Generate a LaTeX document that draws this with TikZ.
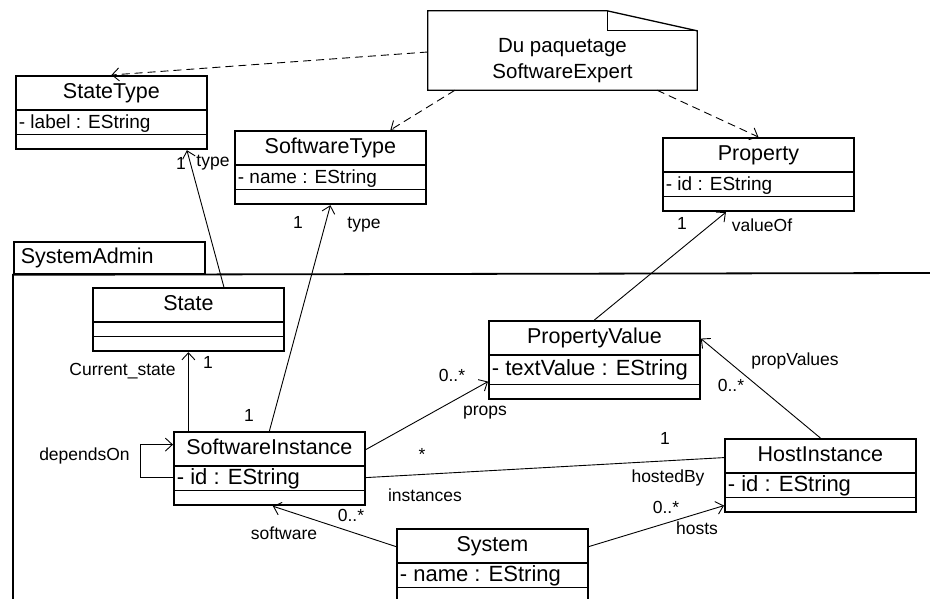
\documentclass[tikz,border=0pt]{standalone}
\usepackage{fontspec}
\setmainfont{Liberation Sans}
\usepackage{tikz}
\usetikzlibrary{shapes.multipart, arrows.meta, calc}

% class compartments
\newcommand{\clsname}[2][187pt]{\fontsize{21.5}{24}\selectfont\rule[-10pt]{0pt}{32pt}\makebox[#1][c]{#2}}
\newcommand{\clsattr}[2][19]{\fontsize{#1}{#1}\selectfont\rule[-5pt]{0pt}{23pt}#2}
\newcommand{\clsops}{\rule{0pt}{13pt}}

\begin{document}
\begin{tikzpicture}[x=1pt, y=-1pt,
    cls/.style={rectangle split, rectangle split parts=3, rectangle split part align={center,left,left},
        rectangle split draw splits=false, draw, line width=1.8pt, inner xsep=3pt, inner ysep=0pt,
        anchor=north west},
    arr/.style={-{Straight Barb[length=7pt, width=13pt]}, line width=0.9pt},
    assoc/.style={line width=0.9pt},
    dep/.style={arr, dash pattern=on 8pt off 5pt},
    lbl/.style={font=\fontsize{17.5}{18}\selectfont, inner sep=0pt},
    notebox/.style={minimum width=269pt, minimum height=59pt, inner sep=0pt, align=center,
        font=\fontsize{20.5}{26}\selectfont},
    pkgtab/.style={draw, line width=1.8pt, anchor=north west, minimum height=32pt, text width=177pt,
        inner xsep=7pt, inner ysep=0pt, align=left, font=\fontsize{21.5}{24}\selectfont},
]
\useasboundingbox (0,0) rectangle (930,599);

% Package SystemAdmin
\node[pkgtab] (pkg) at (13,241) {SystemAdmin};
\draw[line width=1.8pt] (930,273) -- (pkg.south west) -- (13,600);

% Note
\node[notebox] (note) at (562.5,60.5) {Du paquetage\\SoftwareExpert};
\draw[line width=1.3pt] ([yshift=20pt]note.north west) -- ([xshift=-90pt, yshift=20pt]note.north east)
    -- (note.north east) -- (note.south east) -- (note.south west) -- cycle;
\draw[line width=1.3pt] ([xshift=-90pt, yshift=20pt]note.north east) |- (note.north east);

% Classes from SoftwareExpert
\node[cls] (stype) at (15,75) {\clsname[185pt]{StateType}\nodepart{two}\clsattr{- label : EString}\nodepart{three}\clsops};
\node[cls] (swtype) at (234,130) {\clsname[185pt]{SoftwareType}\nodepart{two}\clsattr{- name : EString}\nodepart{three}\clsops};
\node[cls] (prop) at (662,137) {\clsname[185pt]{Property}\nodepart{two}\clsattr{- id : EString}\nodepart{three}\clsops};

% Classes in SystemAdmin
\node[cls] (state) at (92,287) {\clsname[185pt]{State}\nodepart{two}\clsops\nodepart{three}\clsops};
\node[cls] (swinst) at (173,431) {\clsname[185pt]{SoftwareInstance}\nodepart{two}\clsattr[22]{- id : EString}\nodepart{three}\clsops};
\node[cls] (pval) at (488,320) {\clsname[205pt]{PropertyValue}\nodepart{two}\fontsize{22}{22}\selectfont\rule[-8pt]{0pt}{28pt}- textValue : EString\nodepart{three}\clsops};
\node[cls] (hinst) at (724,438) {\clsname[185pt]{HostInstance}\nodepart{two}\clsattr[22]{- id : EString}\nodepart{three}\clsops};
\node[cls] (system) at (396,528) {\clsname[185pt]{System}\nodepart{two}\clsattr[22]{- name : EString}\nodepart{three}\clsops};

% compartment lines
\foreach \k in {stype, swtype, prop, state, swinst, pval, hinst, system}
    \draw[line width=1.8pt] (\k.text split west) -- (\k.text split east)
        (\k.two split west) -- (\k.two split east);

% Dependencies from the note
\draw[dep] ([yshift=8.5pt]note.west) -- (stype.north);
\draw[dep] ([xshift=-107.5pt]note.south) -- ([xshift=60pt]swtype.north);
\draw[dep] ([xshift=94.5pt]note.south) -- (prop.north);

% Associations
\draw[arr] ([xshift=35.5pt]state.north) -- ([xshift=75.5pt]stype.south);
\node[lbl] (sto) at (181,163) {1};
\node[lbl] (stn) at (213,163) {type};

\draw[arr] (swinst.north) -- (swtype.south);
\node[lbl] (swto) at (298,222) {1};
\node[lbl] (swtn) at (364,225) {type};
\node[lbl] (swio) at (249,415) {1};

\draw[arr] ([xshift=-81pt]swinst.north) -- ([xshift=-81pt]swinst.north |- state.south);
\node[lbl] (csn) at (122.5,371) {Current\_state};
\node[lbl] (cso) at (208,362) {1};

\draw[arr] ([yshift=-9pt]swinst.west) -- ++(-33,0) |- ([yshift=24pt]swinst.west);
\node[lbl] (dpn) at (84.5,456) {dependsOn};

\draw[arr] ([yshift=19pt]swinst.east) -- ([yshift=-21.5pt]pval.west);
\node[lbl] (prm) at (452,375) {0..*};
\node[lbl] (prn) at (485,413) {props};

\draw[assoc] ([yshift=-9pt]swinst.east) -- ([yshift=18pt]hinst.west);
\node[lbl] (inm) at (422,454) {*};
\node[lbl] (inn) at (425,495) {instances};
\node[lbl] (hbm) at (665,438) {1};
\node[lbl] (hbn) at (668,478) {hostedBy};

\draw[arr] ([yshift=19pt]system.west) -- ([xshift=3.5pt]swinst.south);
\node[lbl] (sfm) at (351,515) {0..*};
\node[lbl] (sfn) at (284,533) {software};

\draw[arr] ([yshift=19pt]system.east) -- ([yshift=-30pt]hinst.west);
\node[lbl] (hsm) at (666,507) {0..*};
\node[lbl] (hsn) at (697,528) {hosts};

\draw[arr] (pval.north) -- ([xshift=-32.5pt]prop.south);
\node[lbl] (vom) at (682,223) {1};
\node[lbl] (von) at (762,225) {valueOf};

\draw[arr] (hinst.north) -- ([yshift=21.5pt]pval.east);
\node[lbl] (pvn) at (795,361) {propValues};
\node[lbl] (pvm) at (731,385) {0..*};

\end{tikzpicture}
\end{document}
